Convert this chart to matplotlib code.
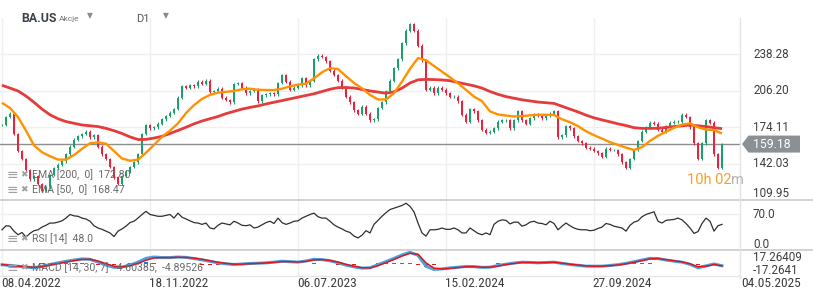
import numpy as np
import matplotlib
matplotlib.use("Agg")
import matplotlib.pyplot as plt
from matplotlib import font_manager as fm
from matplotlib.patches import Polygon
from matplotlib.lines import Line2D
from matplotlib.transforms import IdentityTransform, blended_transform_factory

# DATA (one price sample every ~4 trading days, indicators every ~8)
close = np.array([
    176, 183, 186, 168, 153, 146, 136, 128, 131, 124,
    118, 121, 132, 138, 141, 144, 150, 157, 163, 166,
    168, 170, 165, 167, 157, 150, 146, 139, 130, 124,
    131, 135, 139, 143, 150, 168, 176, 173, 174, 177,
    181, 184, 187, 190, 200, 210, 209, 211, 210, 214,
    212, 215, 205, 206, 208, 200, 198, 196, 212, 213,
    209, 204, 206, 207, 197, 202, 203, 204, 203, 213,
    220, 214, 207, 209, 211, 217, 211, 215, 234, 237,
    236, 232, 224, 220, 215, 209, 201, 196, 189, 186,
    192, 186, 180, 181, 191, 196, 206, 215, 226, 234,
    248, 259, 265, 259, 246, 233, 207, 209, 204, 209,
    207, 204, 201, 201, 197, 185, 179, 190, 188, 180,
    172, 169, 170, 173, 179, 180, 180, 173, 180, 188,
    180, 177, 182, 185, 184, 182, 184, 186, 188, 165,
    167, 175, 173, 166, 162, 160, 156, 155, 153, 151,
    148, 155, 154, 154, 150, 143, 138, 146, 154, 162,
    170, 174, 178, 177, 172, 170, 175, 178, 179, 179,
    185, 183, 174, 160, 146, 160, 180, 178, 150, 138, 159.18,
])

ema200 = np.array([
    211, 208.5, 206, 201.5, 196, 190, 185, 181.5, 179, 177.5,
    176, 175.3, 174.6, 173, 171, 168.5, 165.5, 163.2, 163.3, 164.5,
    166, 168.5, 171.2, 174, 177, 179.5, 181.5, 183.5, 186, 188,
    190, 191.5, 192.8, 194.5, 196, 197.5, 199, 200.5, 202, 203.5,
    205.5, 207.5, 208.9, 209, 208.6, 207.3, 206, 205, 204, 205.2,
    208.5, 213, 215.8, 216.2, 216, 215.7, 215, 213.5, 212, 210.5,
    208.5, 205.5, 203, 201, 199.6, 198.2, 197.2, 196.2, 195.6, 195,
    192.5, 190, 187.5, 184.7, 182.3, 180.5, 178.8, 177, 175.5, 173.6,
    173, 173, 173.1, 173.8, 174.6, 175.3, 176, 175.3, 174.6, 173.6, 172.8,
])

ema50 = np.array([
    195.5, 191, 183, 171, 158, 152, 148.5, 145.5, 145.5, 149.5,
    155, 159.9, 160.7, 159.5, 153, 146.5, 144.5, 145.5, 151.5, 158.5,
    165.5, 171, 177.5, 186.5, 193.5, 199, 202.5, 204.5, 205.2, 206,
    207.5, 208, 207, 206.8, 206.8, 208, 210, 211.5, 212.5, 217,
    222.5, 226, 225.3, 219, 213, 208.3, 202.5, 198.5, 198.5, 204,
    214.2, 225.5, 235, 233, 228, 223, 218, 212.7, 207, 201,
    197, 188, 185.3, 184.3, 183.5, 183.8, 184.5, 185, 185, 184.8,
    181, 178.5, 175, 170.5, 167, 164, 160.8, 158.5, 156, 154,
    156.5, 162, 166.5, 170, 173.5, 176.3, 177.5, 174, 172, 171.5, 168.5,
])

rsi = np.array([
    36, 45, 44, 33, 25, 30, 20, 28, 34, 36,
    42, 46, 51, 51, 53, 56, 62, 70, 67, 66,
    62, 60, 55, 45, 40, 37, 33, 29, 21, 33,
    38, 44, 52, 55, 62, 70, 77, 70, 68, 66,
    66, 68, 70, 62, 73, 64, 60, 56, 52, 51,
    48, 51, 40, 38, 46, 51, 49, 47, 55, 51,
    46, 45, 47, 40, 42, 47, 52, 55, 50, 62,
    52, 48, 51, 55, 56, 62, 66, 70, 73, 65,
    62, 62, 55, 47, 42, 38, 33, 30, 22, 18,
    24, 34, 29, 48, 57, 66, 74, 81, 84, 87,
    90, 95, 88, 76, 51, 29, 22, 36, 36, 37,
    40, 37, 37, 40, 36, 29, 29, 40, 34, 28,
    25, 29, 25, 48, 55, 58, 57, 49, 53, 53,
    44, 47, 53, 55, 51, 50, 47, 55, 50, 36,
    44, 51, 45, 40, 37, 36, 36, 34, 35, 39,
    42, 50, 48, 44, 42, 40, 33, 46, 53, 56,
    65, 70, 73, 76, 55, 51, 57, 58, 59, 62,
    58, 50, 40, 28, 32, 50, 62, 55, 33, 45, 48,
])

macd = np.array([
    -2, -4, -6, -8, -10, -6, -1.5, 3, 7, 10.5,
    13.5, 12.5, 5, -3, -9, -8, -3, 5, 15, 18.5,
    17, 17, 18.5, 17.5, 14.5, 11, 7, 3, 0.5, -1.3,
    0, 1.3, 2, 3, 5, 7.3, 6, 5, 8, 12.5,
    11.5, 8.5, 3.5, -3, -7.5, -11, -10, -2, 6.5, 15,
    24, 31, 23, -6, -14.5, -13, -10.5, -8.5, -6.5, -7,
    -9, -8.5, -4, -0.5, 2.5, 4.8, 4, 3.1, 4, 4.8,
    1.5, -1.3, -3.5, -5.8, -5.8, -5.8, -4, -1.8, 1.5, 6,
    10.5, 15, 14.5, 10.5, 7.5, 5, -1, -10, -5, 0, -4.6,
])

signal = np.array([
    -1.5, -3.5, -5.5, -7.5, -9, -7.5, -3, 1, 5, 9,
    12, 12.5, 8, 1, -6, -8, -5, 1.5, 10, 16,
    17, 17, 18, 17.5, 15.5, 12.5, 8.5, 4.5, 1.5, -0.5,
    -0.5, 0.8, 1.8, 2.7, 4.3, 6.5, 6.3, 5.3, 7, 11,
    11.8, 9.5, 5, -1, -6, -10, -10.5, -4.5, 3.5, 12,
    21, 28.5, 26, 3, -11, -13.5, -11.5, -9.5, -7.5, -7,
    -8.5, -8.5, -5.5, -1.5, 1.5, 4, 4.2, 3.4, 3.8, 4.6,
    2.5, -0.5, -2.8, -5, -5.8, -5.8, -4.5, -2.5, 0.5, 4.5,
    9, 13.5, 14.5, 11.5, 8.5, 5.5, 0.5, -7.5, -6, -1.5, -4.9,
])

date_labels = ["08.04.2022", "18.11.2022", "06.07.2023", "15.02.2024", "27.09.2024", "04.05.2025"]
date_ticks = [0, 37, 74, 111, 148, 185]          # sample index of each date label
price_ticks = [238.28, 206.20, 174.11, 142.03, 109.95]
last_price = 159.18

# LAYOUT (pixel based)
W, H = 813, 300
PLOT_R = 740
GREEN, RED = "#1f9d6c", "#e5243f"
GRID = "#efefef"
TXT = "#3d3d3d"
plt.rcParams["font.family"] = ["Roboto", "DejaVu Sans"]


def narrow_font():
    # look for a condensed face for the date axis
    for fam, st in [("Roboto Condensed", "normal"), ("Liberation Sans Narrow", "normal"),
                    ("DejaVu Sans", "condensed"), ("Roboto", "condensed")]:
        try:
            path = fm.findfont(fm.FontProperties(family=fam, stretch=st), fallback_to_default=False)
        except ValueError:
            continue
        if fam != "Roboto" and fam != "DejaVu Sans" or "ondensed" in path:
            return fam, st
    return "Roboto", "normal"


fig = plt.figure(figsize=(W / 100, H / 100), dpi=100)
fig.patch.set_facecolor("white")


def panel(top, bottom):
    ax = fig.add_axes([0, 1 - bottom / H, PLOT_R / W, (bottom - top) / H])
    ax.set_xlim(-0.5, 184.5)
    ax.axis("off")
    for t in date_ticks:
        ax.axvline(t, color=GRID, lw=1, zorder=0)
    return ax


def right_label(ax, y, s, va="center"):
    tr = blended_transform_factory(ax.transAxes, ax.transData)
    ax.text(753 / PLOT_R, y, s, transform=tr, ha="left", va=va,
            fontsize=8.4, color=TXT, clip_on=False)


idx = np.arange(len(close))
idx_ind = np.arange(len(ema200)) * 2

# PRICE PANEL
ax = panel(18, 200)
ax.set_ylim(109.91, 270.26)
for p in price_ticks[:-1]:
    ax.axhline(p, color=GRID, lw=1, zorder=0)

opens = np.r_[close[0], close[:-1]]
colors = np.where(close >= opens, GREEN, RED)
ax.vlines(idx, np.minimum(opens, close) - 1.2, np.maximum(opens, close) + 1.2,
          colors=colors, lw=0.8, zorder=2)
ax.bar(idx, close - opens, bottom=opens, width=0.72, color=colors, zorder=2)

ax.plot(idx_ind, ema200, color="#e53b3b", lw=2.0, zorder=3, solid_capstyle="butt")
ax.plot(idx_ind, ema50, color="#ff9200", lw=1.7, zorder=4, solid_capstyle="butt")
ax.axhline(last_price, color="#8e8e8e", lw=1, zorder=1)

for p in price_ticks[:-1]:
    right_label(ax, p, f"{p:.2f}")
right_label(ax, price_ticks[-1], f"{price_ticks[-1]:.2f}", va="bottom")

legend_items = [(175, "EMA [200,  0]  172.80"), (190, "EMA [50,  0]  168.47")]

# RSI PANEL
ax_rsi = panel(200, 249.5)
ax_rsi.set_ylim(-7.8, 102.2)
ax_rsi.axhline(70, color=GRID, lw=1, zorder=0)
ax_rsi.plot(idx, rsi, color="#2f2f2f", lw=0.9, zorder=3)
right_label(ax_rsi, 70, "70.0")
right_label(ax_rsi, 4.4, "0.0")   # label sits just above the panel floor

# MACD PANEL
ax_m = panel(249.5, 276)
ax_m.set_ylim(-31.9, 38.5)
hist = macd - signal
ax_m.bar(idx_ind, hist, width=1.2, color=np.where(hist >= 0, "#1e7fd6", "#e01b1b"), zorder=2)
ax_m.plot(idx_ind, macd, color="#4aa3e0", lw=2.2, zorder=3)
ax_m.plot(idx_ind, signal, color="#e0141e", lw=1.1, zorder=4)
right_label(ax_m, 17.26409, "17.26409")
right_label(ax_m, -17.2641, "-17.2641")

# date labels under the MACD panel, fitted to ~59 px wide
fam, st = narrow_font()
tr = blended_transform_factory(ax_m.transData, fig.transFigure)
date_texts = []
for t, s in zip(date_ticks, date_labels):
    date_texts.append(ax_m.text(t - 0.3, 1 - 283.5 / H, s, transform=tr, ha="left", va="center",
                                fontsize=10, color=TXT, clip_on=False,
                                family=[fam, "DejaVu Sans"], fontstretch=st))
fig.canvas.draw()
r = fig.canvas.get_renderer()
wid = date_texts[0].get_window_extent(r).width
for t in date_texts:
    t.set_fontsize(min(11, 10 * 59 / wid))

# separators and right border
for y in (200, 249.5):
    fig.add_artist(Line2D([0, 1], [1 - y / H] * 2, color="#cfcfcf", lw=1.3))
fig.add_artist(Line2D([0, PLOT_R / W], [1 - 276 / H] * 2, color="#e6e6e6", lw=1))
fig.add_artist(Line2D([PLOT_R / W] * 2, [1 - 18 / H, 1 - 278 / H], color="#e3e3e3", lw=1))


# legends inside panels
def legend(y, s):
    fig.text(7 / W, 1 - y / H, "≡", fontsize=10, color="#a0a0a0", va="center",
             family=["DejaVu Sans"], zorder=10)
    fig.text(20 / W, 1 - y / H, "✖", fontsize=6.5, color="#a0a0a0", va="center",
             family=["DejaVu Sans"], zorder=10)
    fig.text(32 / W, 1 - y / H, s, fontsize=7.6, color="#6a6a6a", va="center", zorder=10)


for y, s in legend_items:
    legend(y, s)
legend(238.5, "RSI [14]  48.0")
legend(268, "MACD [14, 30, 7]  -4.60385,  -4.89526")

# current price tag
yc = ax.transData.transform((0, last_price))[1]
tag = Polygon([(742, yc), (748.5, yc + 8.5), (800, yc + 8.5), (800, yc - 8.5), (748.5, yc - 8.5)],
              closed=True, facecolor="#8b9094", edgecolor="none", transform=IdentityTransform())
fig.add_artist(tag)
fig.text(753 / W, yc / H, f"{last_price:.2f}", color="white", fontsize=8.8, va="center")

# countdown
fig.text(687 / W, 1 - 180 / H, "10h 02", color="#f7a128", fontsize=10.5, va="center")
fig.text(731 / W, 1 - 180 / H, "m", color="#b4b4b4", fontsize=10.5, va="center")

# header
fig.text(21 / W, 1 - 18 / H, "BA.US", fontsize=8.8, fontweight="bold", color="#3a4149", va="center")
fig.text(59 / W, 1 - 18.5 / H, "Akcje", fontsize=6, color="#777777", va="center")
fig.text(87 / W, 1 - 16 / H, "▼", fontsize=5.5, color="#8a8a8a", va="center", family=["DejaVu Sans"])
fig.text(136 / W, 1 - 18.5 / H, "D1", fontsize=8, color="#555555", va="center")
fig.text(163 / W, 1 - 16 / H, "▼", fontsize=5.5, color="#8a8a8a", va="center", family=["DejaVu Sans"])

fig.savefig("out.png", dpi=100, facecolor="white")
